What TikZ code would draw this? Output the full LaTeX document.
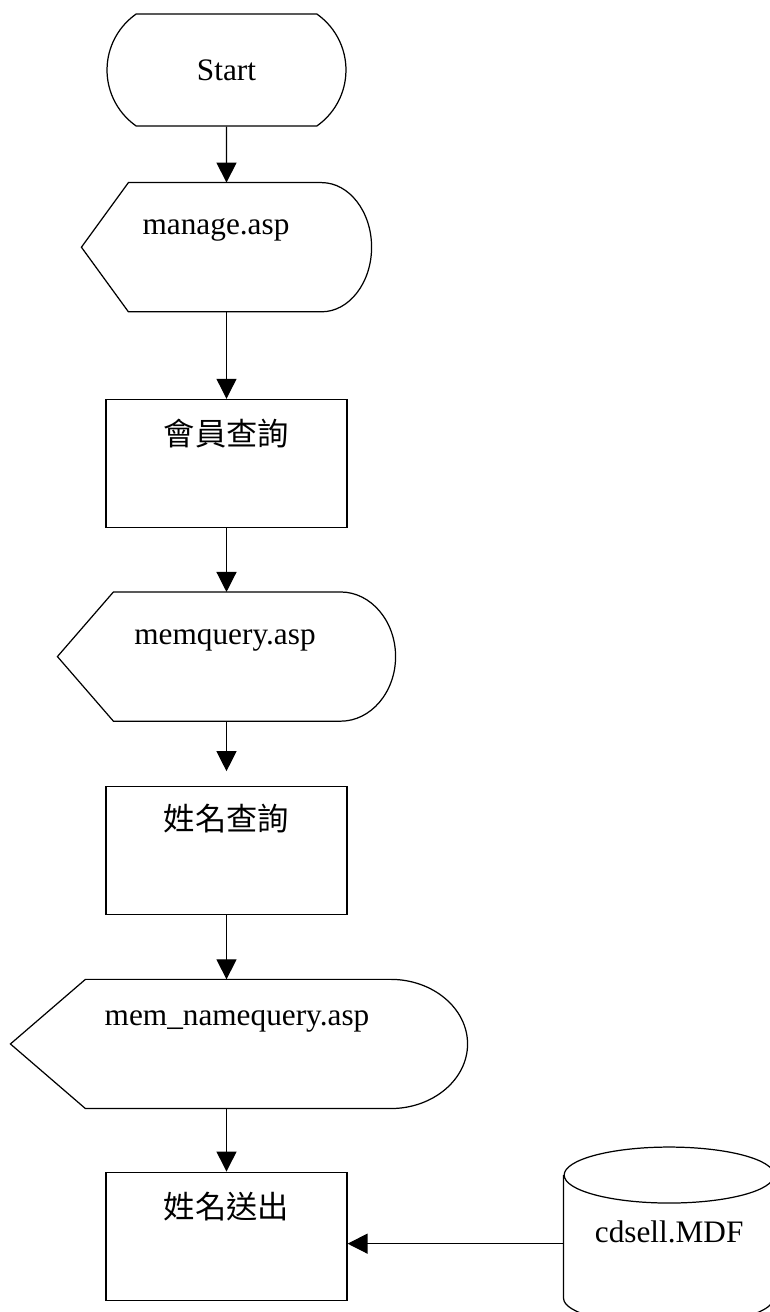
\documentclass[tikz,border=0pt]{standalone}
\usepackage{fontspec}
\setmainfont{Liberation Serif}
\newfontfamily\cjk{Noto Sans CJK TC}
\usetikzlibrary{positioning,shapes.misc,arrows.meta}

\tikzset{
  terminal/.style={draw, rounded rectangle, rounded rectangle arc length=110,
    minimum width=4.78cm, minimum height=2.24cm, inner sep=0pt},
  process/.style={draw, rectangle, minimum width=4.82cm, minimum height=2.56cm, inner sep=0pt},
  display/.style={rectangle, minimum height=2.56cm, inner sep=0pt},
  store/.style={rectangle, minimum width=4.2cm, minimum height=3.54cm, inner sep=0pt},
  txt/.style={inner sep=0pt}
}

% display outline: node name, left point depth, right curve depth
\newcommand{\displayoutline}[3]{%
  \draw (#1.west) -- ([xshift=#2]#1.north west) -- ([xshift=-#3]#1.north east)
    .. controls ([xshift=-0.448*#3]#1.north east) and ([yshift=0.71cm]#1.east) .. (#1.east)
    .. controls ([yshift=-0.71cm]#1.east) and ([xshift=-0.448*#3]#1.south east) .. ([xshift=-#3]#1.south east)
    -- ([xshift=#2]#1.south west) -- cycle;}

\begin{document}
\begin{tikzpicture}[x=0.02cm, y=-0.02cm, line width=0.7pt,
    >={Triangle[length=0.4cm,width=0.4cm]},
    font=\fontsize{17.8}{21}\selectfont]
	\useasboundingbox (0,0) rectangle (770,1312);
	\node (start) [terminal] at (226.5,70) {Start};
	\node (manage) [display, minimum width=5.78cm, below=1.12cm of start] {};
	\node (memchk) [process, below=1.74cm of manage] {};
	\node (memquery) [display, minimum width=6.74cm, below=1.28cm of memchk] {};
	\node (namechk) [process, below=1.3cm of memquery] {};
	\node (namequery) [display, minimum width=9.12cm, below=1.28cm of namechk, xshift=0.25cm] {};
	\node (namesend) [process, below=1.26cm of namequery, xshift=-0.25cm] {};
	\node (db) [store, right=4.32cm of namesend] {};
	\displayoutline{manage}{0.94cm}{1cm}
	\displayoutline{memquery}{1.12cm}{1.1cm}
	\displayoutline{namequery}{1.5cm}{1.54cm}
	\draw ([yshift=-0.56cm]db.north west) -- ([yshift=0.54cm]db.south west)
	  arc[start angle=180, end angle=360, x radius=2.1cm, y radius=0.54cm]
	  -- ([yshift=-0.56cm]db.north east);
	\draw ([yshift=-0.56cm]db.north) ellipse[x radius=2.1cm, y radius=0.56cm];
	\node (manage-txt) [txt, anchor=base] at ([xshift=-0.21cm,yshift=0.26cm]manage.center) {manage.asp};
	\node (memchk-txt) [txt] at ([yshift=0.6cm]memchk.center) {\cjk 會員查詢};
	\node (memquery-txt) [txt, anchor=base] at ([xshift=-0.03cm,yshift=0.24cm]memquery.center) {memquery.asp};
	\node (namechk-txt) [txt] at ([yshift=0.64cm]namechk.center) {\cjk 姓名查詢};
	\node (namequery-txt) [txt, anchor=base] at ([xshift=-0.04cm,yshift=0.37cm]namequery.center) {mem\_namequery.asp};
	\node (namesend-txt) [txt] at ([yshift=0.6cm]namesend.center) {\cjk 姓名送出};
	\node (db-txt) [txt, anchor=base] at ([yshift=-0.13cm]db.center) {cdsell.MDF};
	\draw[->] (start) -- (manage);
	\draw[->] (manage) -- (memchk);
	\draw[->] (memchk) -- (memquery);
	\draw[->, shorten >=0.3cm] (memquery) -- (namechk);
	\draw[->] (namechk.south) -- (namechk.south |- namequery.north);
	\draw[->] (namequery.south -| namesend.north) -- (namesend);
	\draw[->] ([yshift=-0.15cm]db.west) -- ([yshift=-0.15cm]db.west -| namesend.east);
\end{tikzpicture}
\end{document}
